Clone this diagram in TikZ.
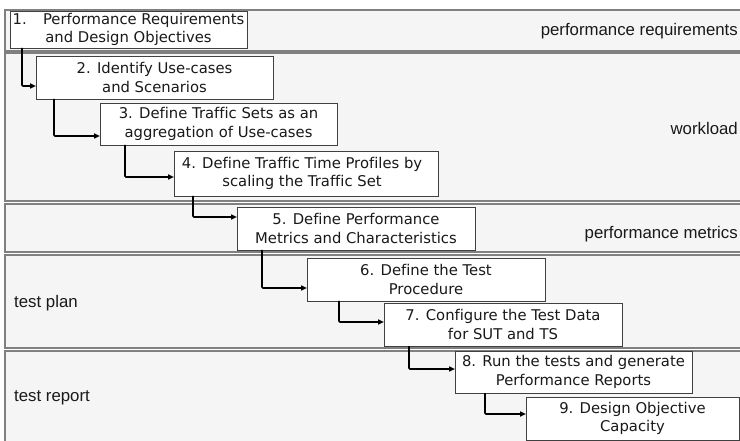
\documentclass[tikz,border=0pt]{standalone}
\usepackage{fontspec}
\setmainfont[Ligatures=NoCommon]{DejaVu Sans}
\newfontfamily\labfont{Liberation Sans}
\usetikzlibrary{arrows.meta}
\begin{document}
\begin{tikzpicture}[x=1pt,y=-1pt,
  band/.style={draw=black!50,line width=1.2pt,fill=black!4},
  stepbox/.style={draw=black!75,line width=0.8pt,fill=white},
  boxtext/.style={align=center,font=\fontsize{14.8}{18.5}\selectfont,inner sep=0pt,text=black!90},
  lab/.style={font=\labfont\fontsize{16.8}{19}\selectfont,inner sep=0pt,text=black!90},
  flow/.style={line width=1.6pt,-{Triangle[length=6pt,width=5pt]},rounded corners=1pt}]
\useasboundingbox (0,0) rectangle (740,441);
% bands
\draw[band] (5,10) rectangle (760,51);
\draw[band] (5,53) rectangle (760,201);
\draw[band] (5,204) rectangle (760,252);
\draw[band] (5,255) rectangle (760,348);
\draw[band] (5,351) rectangle (760,460);
% band labels
\node[lab,anchor=east] (l1) at (738,31) {performance requirements};
\node[lab,anchor=east] (l2) at (738,128) {workload};
\node[lab,anchor=east] (l3) at (738,234) {performance metrics};
\node[lab,anchor=west] (l4) at (14,303) {test plan};
\node[lab,anchor=west] (l5) at (14,398) {test report};
% boxes
\draw[stepbox] (10,11) rectangle (247,48);
\node[boxtext] (b1) at (128.5,29.5) {1.\hspace{1.1em}Performance Requirements\\and Design Objectives};
\draw[stepbox] (36,56) rectangle (273,99);
\node[boxtext] (b2) at (154.5,77.5) {2. Identify Use-cases\\and Scenarios};
\draw[stepbox] (100,103) rectangle (337,145);
\node[boxtext] (b3) at (218.5,124) {3. Define Traffic Sets as an\\aggregation of Use-cases};
\draw[stepbox] (174,151) rectangle (438,196);
\node[boxtext] (b4) at (302,173.5) {4. Define Traffic Time Profiles by\\scaling the Traffic Set};
\draw[stepbox] (237,207) rectangle (475,250);
\node[boxtext] (b5) at (356,228.5) {5. Define Performance\\Metrics and Characteristics};
\draw[stepbox] (307,258) rectangle (545,301);
\node[boxtext] (b6) at (426,279.5) {6. Define the Test\\Procedure};
\draw[stepbox] (384,303) rectangle (622,346);
\node[boxtext] (b7) at (503,324.5) {7. Configure the Test Data\\for SUT and TS};
\draw[stepbox] (455,351) rectangle (692,393);
\node[boxtext] (b8) at (573.5,372) {8. Run the tests and generate\\Performance Reports};
\draw[stepbox] (526,397) rectangle (739,440);
\node[boxtext] (b9) at (632.5,418.5) {9. Design Objective\\Capacity};
% named anchor coordinates
\coordinate (s1) at (22,48); \coordinate (t2) at (36,86);
\coordinate (s2) at (54,99); \coordinate (t3) at (100,136);
\coordinate (s3) at (125,145); \coordinate (t4) at (174,177);
\coordinate (s4) at (193,196); \coordinate (t5) at (237,217);
\coordinate (s5) at (262,250); \coordinate (t6) at (307,288);
\coordinate (s6) at (339,301); \coordinate (t7) at (384,322);
\coordinate (s7) at (409,346); \coordinate (t8) at (455,369);
\coordinate (s8) at (485,393); \coordinate (t9) at (526,414);
\draw[flow] (s1) |- (t2);
\draw[flow] (s2) |- (t3);
\draw[flow] (s3) |- (t4);
\draw[flow] (s4) |- (t5);
\draw[flow] (s5) |- (t6);
\draw[flow] (s6) |- (t7);
\draw[flow] (s7) |- (t8);
\draw[flow] (s8) |- (t9);
\end{tikzpicture}
\end{document}
